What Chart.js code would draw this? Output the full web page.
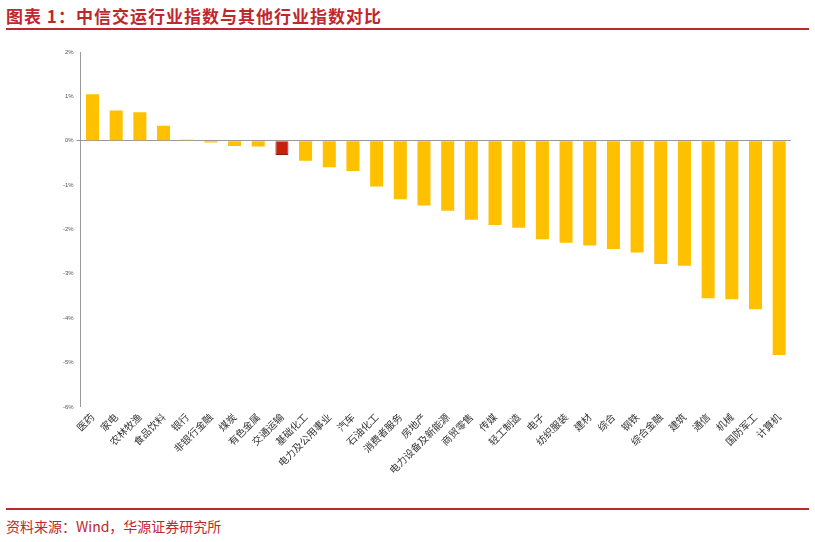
<!DOCTYPE html>
<html><head><meta charset="utf-8">
<script src="https://cdn.jsdelivr.net/npm/chart.js@4"></script>
<style>
body{margin:0;width:815px;height:542px;background:#fff;font-family:"Noto Sans CJK SC",sans-serif;position:relative;overflow:hidden}
#title{position:absolute;left:6px;top:3px;font-size:17px;font-weight:bold;color:#c0272d;letter-spacing:1px}
.rule{position:absolute;left:6px;right:6px;height:2px;background:#c0272d}
#src{position:absolute;left:6px;top:516px;font-size:14px;color:#c0272d}
#wrap{position:absolute;left:0;top:36px;width:815px;height:470px}
</style></head><body>
<div id="title">图表 1：中信交运行业指数与其他行业指数对比</div>
<div class="rule" style="top:28px"></div>
<div id="wrap"><canvas id="c"></canvas></div>
<div class="rule" style="top:508px"></div>
<div id="src">资料来源：Wind，华源证券研究所</div>
<script>
// --- 数据 ---
const industries = ['医药','家电','农林牧渔','食品饮料','银行','非银行金融','煤炭','有色金属','交通运输','基础化工','电力及公用事业','汽车','石油化工','消费者服务','房地产','电力设备及新能源','商贸零售','传媒','轻工制造','电子','纺织服装','建材','综合','钢铁','综合金融','建筑','通信','机械','国防军工','计算机'];
const changes = [1.05,0.68,0.64,0.34,0.02,-0.04,-0.12,-0.13,-0.32,-0.45,-0.6,-0.68,-1.03,-1.32,-1.46,-1.58,-1.78,-1.9,-1.96,-2.22,-2.3,-2.36,-2.44,-2.52,-2.78,-2.82,-3.55,-3.57,-3.8,-4.83];
const highlight = '交通运输';

new Chart(document.getElementById('c'), {
  type: 'bar',
  data: {
    labels: industries,
    datasets: [{
      data: changes,
      backgroundColor: industries.map(n => n === highlight ? '#c8200e' : '#ffc000'),
      borderColor: industries.map(n => n === highlight ? '#8b1a0a' : '#ffc000'),
      borderWidth: industries.map(n => n === highlight ? 1 : 0),
      categoryPercentage: 1, barPercentage: 0.55
    }]
  },
  options: {
    responsive: true, maintainAspectRatio: false, animation: false,
    layout: { padding: { left: 60, right: 24, top: 16, bottom: 26 } },
    plugins: { legend: { display: false }, tooltip: { enabled: false } },
    scales: {
      x: {
        grid: { display: false, drawTicks: false }, border: { display: false },
        ticks: { maxRotation: 45, minRotation: 45, font: { size: 10, family: '"Noto Sans CJK SC"' }, color: '#333', padding: 4 }
      },
      y: {
        min: -6, max: 2,
        ticks: { stepSize: 1, callback: v => v + '%', font: { size: 6 }, color: '#555' },
        grid: { color: ctx => ctx.tick.value === 0 ? '#999' : 'transparent', drawTicks: true, tickLength: 4, lineWidth: 1 },
        border: { color: '#999' }
      }
    }
  }
});
</script>
</body></html>
